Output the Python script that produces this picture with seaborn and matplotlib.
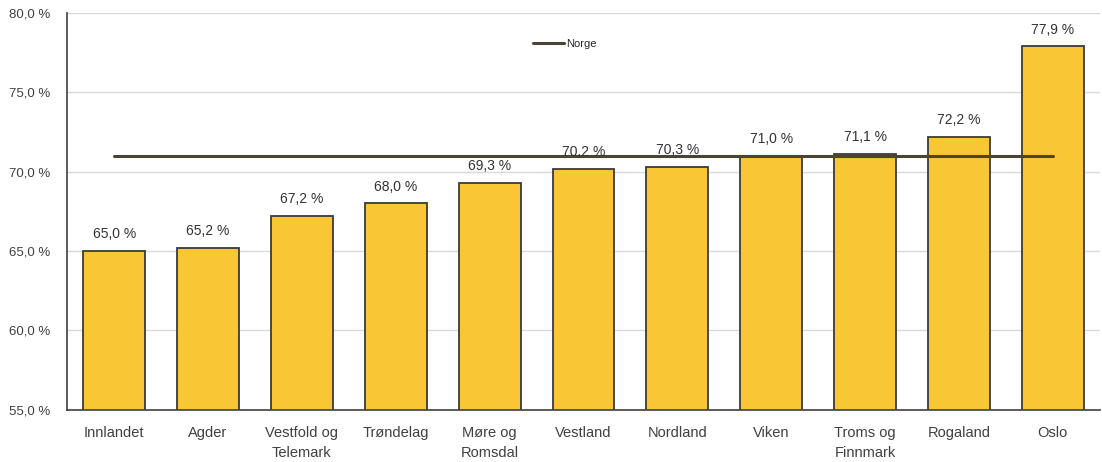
import matplotlib
matplotlib.use("Agg")
import matplotlib.pyplot as plt
import seaborn as sns
import pandas as pd

# fylker sortert etter andel
fylker = ["Innlandet", "Agder", "Vestfold og\nTelemark", "Trøndelag", "Møre og\nRomsdal",
          "Vestland", "Nordland", "Viken", "Troms og\nFinnmark", "Rogaland", "Oslo"]
andel = [65.0, 65.2, 67.2, 68.0, 69.3, 70.2, 70.3, 71.0, 71.1, 72.2, 77.9]
norge = 71.0
y_ticks = [55, 60, 65, 70, 75, 80]

df = pd.DataFrame({"fylke": fylker, "andel": andel})

sns.set_style("white")
plt.rcParams["font.family"] = ["Liberation Sans", "DejaVu Sans"]

fig = plt.figure(figsize=(11.02, 4.62), dpi=100)
ax = fig.add_axes([0.061, 0.113, 0.937, 0.859])

sns.barplot(data=df, x="fylke", y="andel", color="#F9C635", edgecolor="#3a3a3a",
            linewidth=1.3, width=0.66, saturation=1, ax=ax, zorder=2)

# linje for landet
ax.plot(range(len(fylker)), [norge] * len(fylker), color="#4a4436", lw=2.2,
        label="Norge", zorder=3)

ax.bar_label(ax.containers[0], labels=[f"{v:.1f} %".replace(".", ",") for v in andel],
             padding=7, fontsize=10, color="#333333")

ax.set_ylim(55, 80)
ax.set_yticks(y_ticks)
ax.set_yticklabels([f"{t:.1f} %".replace(".", ",") for t in y_ticks])
ax.set_xlim(-0.5, len(fylker) - 0.5)
ax.yaxis.grid(True, color="#d9d9d9", lw=1, zorder=0)
ax.set_axisbelow(True)
ax.set_xlabel("")
ax.set_ylabel("")
ax.tick_params(axis="both", length=0, labelsize=9.5, labelcolor="#404040")
ax.tick_params(axis="x", pad=12, labelsize=10.5)
ax.tick_params(axis="y", pad=12)
for lab in ax.get_xticklabels():
    lab.set_linespacing(1.5)
    lab.set_verticalalignment("top")
for s in ["top", "right"]:
    ax.spines[s].set_visible(False)
for s in ["left", "bottom"]:
    ax.spines[s].set_color("#404040")
    ax.spines[s].set_linewidth(1.2)

ax.legend(loc="center", bbox_to_anchor=(0.482, 0.922), frameon=False, fontsize=8,
          handlelength=2.8, handletextpad=0.2)

fig.savefig("out.png", dpi=100)
